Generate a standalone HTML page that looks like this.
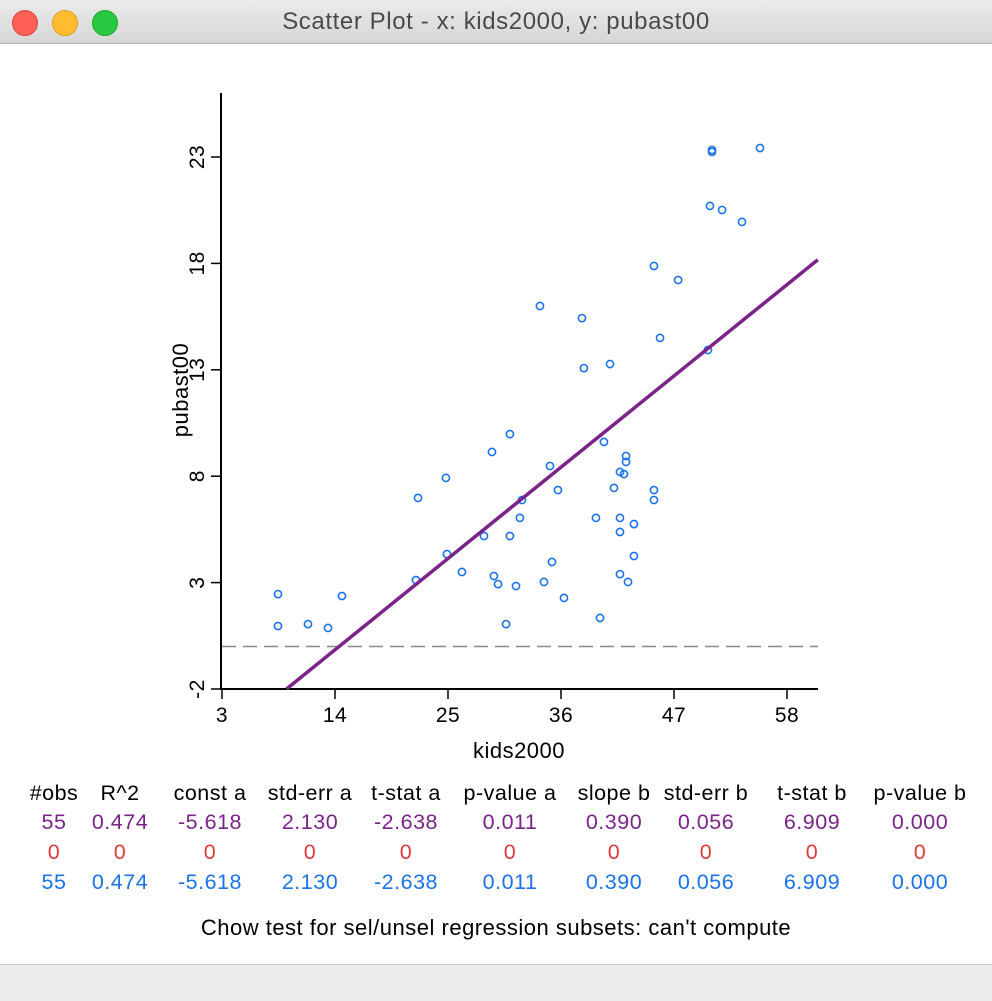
<!DOCTYPE html>
<html><head><meta charset="utf-8"><style>
body{margin:0;width:992px;height:1000px;background:#fff;overflow:hidden;font-family:"Liberation Sans",sans-serif;position:relative}
#titlebar{position:absolute;left:0;top:0;width:992px;height:43px;background:linear-gradient(#ebebeb,#d6d6d6);border-bottom:1px solid #b5b5b5}
.dot{position:absolute;top:10px;width:24px;height:24px;border-radius:50%}
#title{position:absolute;top:0;left:0;width:992px;text-align:center;line-height:44px;font-size:24px;letter-spacing:0.6px;color:#4a4a4a}
#status{position:absolute;left:0;top:964px;width:992px;height:36px;background:#ececec;border-top:1px solid #c8c8c8}
svg text{letter-spacing:0.5px}
</style></head><body>
<div id="titlebar">
<div class="dot" style="left:12px;background:#fe5f57;border:1px solid #e0443e"></div>
<div class="dot" style="left:52px;background:#febc2e;border:1px solid #dea123"></div>
<div class="dot" style="left:92px;background:#28c840;border:1px solid #1aab29"></div>
<div id="title">Scatter Plot - x: kids2000, y: pubast00</div>
</div>
<svg id="chart" width="992" height="964" style="position:absolute;left:0;top:0"></svg>
<div id="status"></div>
<script>
const xTicks=[3,14,25,36,47,58];
const yTicks=[-2,3,8,13,18,23];
const xs=[8.45,8.45,11.37,13.32,14.68,21.88,22.08,24.8,24.9,26.36,28.5,29.28,29.47,29.87,30.65,31.03,31.03,31.62,32.0,32.2,33.95,34.34,34.93,35.12,35.7,36.29,38.04,38.23,39.4,39.8,40.18,40.77,41.16,41.74,41.74,41.74,41.74,42.13,42.33,42.33,42.52,43.1,43.1,45.05,45.05,45.05,45.64,47.4,50.3,50.5,50.7,50.7,51.68,53.62,55.37];
const ys=[2.46,0.96,1.05,0.87,2.37,3.12,6.98,7.92,4.34,3.5,5.19,9.14,3.31,2.93,1.05,5.19,9.98,2.84,6.04,6.88,16.0,3.03,8.48,3.97,7.35,2.28,15.43,13.08,6.04,1.34,9.61,13.27,7.45,8.2,6.04,5.38,3.4,8.1,8.67,8.95,3.03,5.75,4.25,17.88,7.35,6.88,14.5,17.22,13.93,20.7,23.33,23.24,20.51,19.95,23.42];
const intercept=-5.618, slope=0.390, refY=0;
const headers=["#obs","R^2","const a","std-err a","t-stat a","p-value a","slope b","std-err b","t-stat b","p-value b"];
const rowAll=["55","0.474","-5.618","2.130","-2.638","0.011","0.390","0.056","6.909","0.000"];
const rowSel=["0","0","0","0","0","0","0","0","0","0"];
const rowUnsel=["55","0.474","-5.618","2.130","-2.638","0.011","0.390","0.056","6.909","0.000"];

const svg=document.getElementById('chart');const NS='http://www.w3.org/2000/svg';
const X=v=>222+(v-3)*(565/55), Y=v=>689-(v+2)*(532/25);
function mk(t,a,p){const e=document.createElementNS(NS,t);for(const k in a)e.setAttribute(k,a[k]);(p||svg).appendChild(e);return e;}
const ax=mk('g',{});


let e=mk('line',{x1:221,y1:93,x2:221,y2:690,stroke:'#000','stroke-width':2},ax);

e=mk('line',{x1:220,y1:689,x2:818,y2:689,stroke:'#000','stroke-width':2},ax);

xTicks.forEach(v=>{mk('line',{x1:X(v),y1:689,x2:X(v),y2:699,stroke:'#000','stroke-width':1.5},ax);
 const t=mk('text',{x:X(v),y:722,'text-anchor':'middle','font-size':21},ax);t.textContent=v;
 });
yTicks.forEach(v=>{mk('line',{x1:211,y1:Y(v),x2:221,y2:Y(v),stroke:'#000','stroke-width':1.5},ax);
 const t=mk('text',{x:0,y:0,'text-anchor':'middle','font-size':21,transform:`translate(204,${Y(v)}) rotate(-90)`},ax);t.textContent=v;
 });
e=mk('text',{x:519,y:758,'text-anchor':'middle','font-size':22});e.textContent='kids2000';

e=mk('text',{x:0,y:0,'text-anchor':'middle','font-size':22,transform:'translate(188,390) rotate(-90)'});e.textContent='pubast00';

e=mk('line',{x1:222,y1:Y(refY),x2:818,y2:Y(refY),stroke:'#888','stroke-width':1.5,'stroke-dasharray':'14,7'});

const g=mk('g',{});

xs.forEach((x,i)=>{const c=mk('circle',{cx:X(x),cy:Y(ys[i]),r:3.6,fill:'none',stroke:'#1a73e8','stroke-width':1.6},g);
 });
const x0=(-2-intercept)/slope, x1=61;
e=mk('line',{x1:X(x0),y1:Y(-2),x2:X(x1),y2:Y(intercept+slope*x1),stroke:'#7b2389','stroke-width':3.5});

const cols=[54,120,210,310,406,510,614,706,812,920];
function row(vals,y,col,name){vals.forEach((v,i)=>{const t=mk('text',{x:cols[i],y:y,'text-anchor':'middle','font-size':21.5,fill:col});t.textContent=v;
 });}
row(headers,800,'#000','table-header');
row(rowAll,829,'#7b2389','stats-all');
row(rowSel,859,'#e03a3a','stats-selected');
row(rowUnsel,889,'#1a73e8','stats-unselected');
e=mk('text',{x:496,y:935,'text-anchor':'middle','font-size':22});e.textContent="Chow test for sel/unsel regression subsets: can't compute";

</script>
</body></html>
